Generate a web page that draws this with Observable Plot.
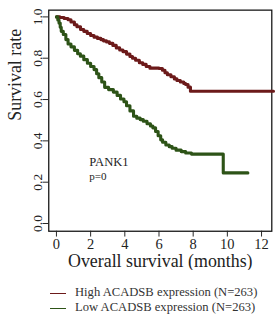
<!DOCTYPE html>
<html><head><meta charset="utf-8">
<script src="https://cdn.jsdelivr.net/npm/d3@7"></script>
<script src="https://cdn.jsdelivr.net/npm/@observablehq/plot@0.6"></script>
<style>
html,body{margin:0;padding:0;background:#fff;overflow:hidden;width:280px;height:317px;}
#chart{position:relative;width:280px;height:317px;overflow:hidden;}
.legend{position:absolute;left:50px;font-family:"Liberation Serif",serif;font-size:12.6px;color:#333;}
.legend div{height:15px;line-height:15px;white-space:nowrap;}
.legend span.sw{display:inline-block;width:16px;height:0;border-top:1.5px solid;vertical-align:middle;margin-right:9px;}
</style></head><body>
<div id="chart"></div>
<script>
// High expression group (step-after: time in months, survival)
const highTimes = [0, 0.2, 0.45, 0.68, 0.85, 1.05, 1.2, 1.41, 1.6, 1.8, 2.0, 2.2, 2.4, 2.6, 2.75, 2.93, 3.1, 3.3, 3.5, 3.7, 3.89, 4.1, 4.3, 4.45, 4.63, 4.85, 5.05, 5.25, 5.47, 5.8, 6.0, 6.2, 6.35, 6.49, 6.7, 6.9, 7.05, 7.25, 7.45, 7.56, 7.7, 7.84, 12.7];
const highSurv  = [1.0, 0.997, 0.992, 0.986, 0.975, 0.962, 0.952, 0.939, 0.93, 0.92, 0.91, 0.902, 0.896, 0.89, 0.884, 0.879, 0.872, 0.862, 0.85, 0.84, 0.832, 0.82, 0.808, 0.8, 0.79, 0.778, 0.77, 0.76, 0.752, 0.752, 0.75, 0.742, 0.73, 0.72, 0.71, 0.7, 0.692, 0.685, 0.678, 0.673, 0.66, 0.64, 0.64];
const highCensor = [7.9, 8.18, 8.41, 8.58, 8.75, 8.97, 9.14, 9.31, 9.54, 9.82, 10.1, 10.38, 10.67, 10.95, 11.23, 12.4];
// Low expression group
const lowTimes = [0, 0.08, 0.15, 0.22, 0.28, 0.4, 0.55, 0.68, 0.85, 1.05, 1.24, 1.4, 1.6, 1.81, 2.0, 2.2, 2.35, 2.48, 2.65, 2.82, 3.05, 3.33, 3.55, 3.75, 3.95, 4.1, 4.3, 4.51, 4.7, 4.9, 5.08, 5.3, 5.5, 5.64, 5.8, 5.95, 6.1, 6.21, 6.4, 6.6, 6.77, 7.0, 7.3, 7.56, 7.9, 9.76, 11.2];
const lowSurv  = [1.0, 0.985, 0.97, 0.95, 0.93, 0.915, 0.89, 0.869, 0.855, 0.838, 0.822, 0.81, 0.793, 0.776, 0.76, 0.745, 0.725, 0.706, 0.685, 0.659, 0.648, 0.636, 0.62, 0.603, 0.589, 0.57, 0.545, 0.519, 0.51, 0.503, 0.495, 0.483, 0.472, 0.463, 0.445, 0.425, 0.405, 0.393, 0.38, 0.372, 0.364, 0.355, 0.348, 0.341, 0.336, 0.245, 0.245];
const lowCensor = [8.0, 8.3, 8.75, 9.14, 9.6, 10.16, 10.55, 10.95, 11.23];
const xTicks = [0, 2, 4, 6, 8, 10, 12];
const yTicks = [0, 0.2, 0.4, 0.6, 0.8, 1.0];
const legendLabels = ["High ACADSB expression (N=263)", "Low ACADSB expression (N=263)"];
const colors = ["#6c1a1a", "#2d5317"];

function survAt(times, surv, t){ let s = surv[0]; for(let i=0;i<times.length;i++){ if(times[i]<=t) s=surv[i]; } return s; }
const high = highTimes.map((t,i)=>({t, s: highSurv[i]}));
const low = lowTimes.map((t,i)=>({t, s: lowSurv[i]}));
const highC = highCensor.map(t=>({t, s: survAt(highTimes, highSurv, t)}));
const lowC = lowCensor.map(t=>({t, s: survAt(lowTimes, lowSurv, t)}));
const font = "Liberation Serif, serif";

const plot = Plot.plot({
  width: 290, height: 280,
  marginLeft: 50, marginRight: 9, marginTop: 10, marginBottom: 41,
  style: {fontFamily: font, color: "#222", background: "transparent"},
  x: {domain: [-0.45, 12.6]},
  y: {domain: [-0.0374, 1.0327]},
  marks: [
    Plot.frame({stroke: "#111", strokeWidth: 1.3}),
    Plot.axisX({ticks: xTicks, tickSize: 6, tickPadding: 2, fontSize: 15, label: null, tickFormat: d => String(d)}),
    Plot.axisY({ticks: yTicks, tickSize: 6, tickPadding: 1, fontSize: 14, tickRotate: -90, tickFormat: d3.format(".1f"), label: null}),
    Plot.text(["Overall survival (months)"], {frameAnchor: "bottom", dy: 31, lineAnchor: "middle", fontSize: 18.5, fill: "#222"}),
    Plot.text(["Survival rate"], {frameAnchor: "left", dx: -35, rotate: -90, fontSize: 18.5, fill: "#222"}),
    Plot.line(high, {x: "t", y: "s", curve: "step-after", stroke: colors[0], strokeWidth: 3.2}),
    Plot.line(low, {x: "t", y: "s", curve: "step-after", stroke: colors[1], strokeWidth: 3.2}),
    Plot.dot(highC, {x: "t", y: "s", symbol: "plus", r: 3, fill: colors[0]}),
    Plot.dot(lowC, {x: "t", y: "s", symbol: "plus", r: 3, fill: colors[1]}),
    Plot.text(["PANK1"], {x: 1.92, y: 0.3, textAnchor: "start", lineAnchor: "middle", fontSize: 13, fill: "#222"}),
    Plot.text(["p=0"], {x: 1.92, y: 0.228, textAnchor: "start", lineAnchor: "middle", fontSize: 11.5, fill: "#222"})
  ]
});
const chart = document.getElementById("chart");
chart.appendChild(plot);
const leg = document.createElement("div");
leg.className = "legend";
leg.style.top = "285px";
legendLabels.forEach((l,i)=>{
  const d = document.createElement("div");
  d.innerHTML = `<span class="sw" style="border-color:${colors[i]}"></span>${l}`;
  leg.appendChild(d);
});
chart.appendChild(leg);
</script>
</body></html>
